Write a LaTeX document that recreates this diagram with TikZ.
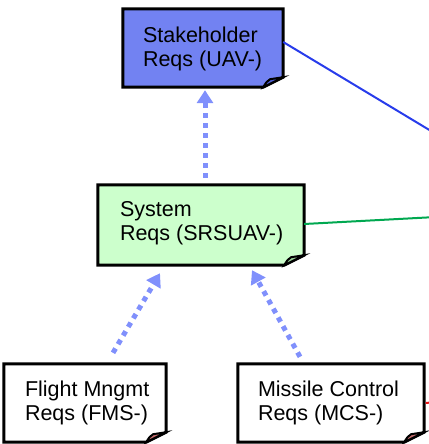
\documentclass[tikz,border=0pt]{standalone}
\usepackage{fontspec}
\setmainfont{Liberation Sans}
\usetikzlibrary{arrows.meta,calc}

\definecolor{stakefill}{RGB}{114,130,242}
\definecolor{stakefold}{RGB}{78,94,210}
\definecolor{sysfill}{RGB}{204,255,204}
\definecolor{sysfold}{RGB}{150,205,150}
\definecolor{plainfold}{RGB}{196,108,108}
\definecolor{depblue}{RGB}{128,144,252}
\definecolor{linkblue}{RGB}{40,60,235}
\definecolor{linkgreen}{RGB}{0,168,80}
\definecolor{linkred}{RGB}{235,20,20}

\tikzset{
  reqnote/.style={rectangle, inner sep=0pt, minimum width=#1},
  notetext/.style={anchor=west, inner sep=0pt, align=left,
    font=\fontsize{21.5}{23.5}\selectfont},
  noteborder/.style={draw=black, line width=3pt, line join=miter},
  dependency/.style={depblue, line width=5pt, dash pattern=on 5pt off 5pt,
    -{Triangle[width=16pt,length=13pt]}},
  tracelink/.style={line width=2pt},
}

% outline of a requirement note with a folded lower right corner
\newcommand\foldednote[3]{%
  \draw[noteborder, fill=#2] (#1.north west) -- (#1.north east)
    -- ([yshift=10pt]#1.south east) -- ([xshift=-20pt]#1.south east)
    -- (#1.south west) -- cycle;
  \draw[noteborder, line width=2pt, fill=#3] ([xshift=-20pt]#1.south east)
    .. controls ([xshift=-17pt,yshift=5pt]#1.south east) .. ([xshift=-13pt,yshift=8pt]#1.south east)
    -- ([yshift=10pt]#1.south east) -- cycle;
}

\begin{document}
\begin{tikzpicture}[x=1pt,y=-1pt]
\useasboundingbox (0,0) rectangle (428,444);

% note bodies
\path (203,48)  node[reqnote=160pt, minimum height=78pt] (stake) {};
\path (201,225) node[reqnote=206pt, minimum height=80pt] (sys) {};
\path (85,403)  node[reqnote=162pt, minimum height=78pt] (fms) {};
\path (331,403) node[reqnote=186pt, minimum height=78pt] (mcs) {};

\foldednote{stake}{stakefill}{stakefold}
\foldednote{sys}{sysfill}{sysfold}
\foldednote{fms}{white}{plainfold}
\foldednote{mcs}{white}{plainfold}

% note texts
\node[notetext] (staketext) at ([xshift=20pt,yshift=-1pt]stake.west) {Stakeholder\\Reqs (UAV-)};
\node[notetext] (systext) at ([xshift=22pt,yshift=2pt]sys.west) {System\\Reqs (SRSUAV-)};
\node[notetext] (fmstext) at ([xshift=21pt,yshift=0pt]fms.west) {Flight Mngmt\\Reqs (FMS-)};
\node[notetext] (mcstext) at ([xshift=20pt,yshift=0pt]mcs.west) {Missile Control\\Reqs (MCS-)};

% trace links leaving the picture on the right
\coordinate (stakeout) at (436,134);
\coordinate (sysout) at (436,217);
\coordinate (mcsout) at (436,402);
\draw[tracelink, linkblue] ([yshift=6pt]stake.east) -- (stakeout);
\draw[tracelink, linkgreen] ([yshift=1pt]sys.east) -- (sysout);
\draw[tracelink, linkred] ([xshift=1.5pt]mcs.east) -- (mcsout);

% refinement dependencies
\draw[dependency] ([xshift=4pt,yshift=7pt]sys.north) -- ([xshift=2pt,yshift=-3pt]stake.south);
\draw[dependency] ([xshift=28pt,yshift=11pt]fms.north) -- ([xshift=-41pt,yshift=-8pt]sys.south);
\draw[dependency] ([xshift=-31pt,yshift=7pt]mcs.north) -- ([xshift=51pt,yshift=-5pt]sys.south);
\end{tikzpicture}
\end{document}
